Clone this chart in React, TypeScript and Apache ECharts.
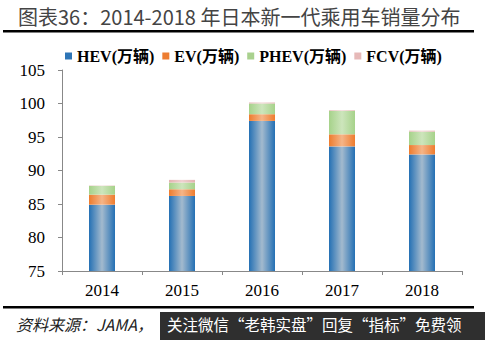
import React, { useEffect, useRef } from "react";
import * as echarts from "echarts";

const categories = ["2014", "2015", "2016", "2017", "2018"];
const hev = [84.9, 86.2, 97.4, 93.6, 92.4];
const ev = [1.5, 1.0, 1.0, 1.8, 1.4];
const phev = [1.3, 1.0, 1.6, 3.5, 2.0];
const fcv = [0.05, 0.4, 0.15, 0.1, 0.15];
const seriesNames = ["HEV(万辆)", "EV(万辆)", "PHEV(万辆)", "FCV(万辆)"];
const titleText = "图表36：2014-2018 年日本新一代乘用车销量分布";
const sourceText = "资料来源：JAMA，";
const watermarkText = "关注微信“老韩实盘”回复“指标”免费领";

const grad = (edge: string, mid: string) =>
  new echarts.graphic.LinearGradient(0, 0, 1, 0, [
    { offset: 0, color: edge },
    { offset: 0.5, color: mid },
    { offset: 1, color: edge },
  ]);

export default function App() {
  const ref = useRef<HTMLDivElement>(null);
  useEffect(() => {
    if (!ref.current) return;
    const chart = echarts.init(ref.current, null, { renderer: "svg" });
    const serif = "'Liberation Serif', 'Times New Roman', 'Noto Sans CJK SC', serif";
    const solid = ["#2E75B6", "#ED7D31", "#A9D18E", "#E6B9B8"];
    const fills = [
      grad("#2470B4", "#A3BACE"),
      grad("#EE7C2E", "#F5B588"),
      grad("#A6D28A", "#CDE5BC"),
      grad("#E3B2B1", "#F0D2D1"),
    ];
    const datas = [hev, ev, phev, fcv];
    chart.setOption({
      animation: false,
      backgroundColor: "#ffffff",
      grid: { left: 62, right: 23, top: 70, bottom: 69 },
      legend: {
        left: 60,
        top: 43,
        itemWidth: 7,
        itemHeight: 7,
        itemGap: 8,
        icon: "rect",
        data: seriesNames.map((n, i) => ({ name: n, itemStyle: { color: solid[i] } })),
        textStyle: { fontFamily: serif, fontWeight: "bold", fontSize: 16, color: "#000" },
      },
      xAxis: {
        type: "category",
        data: categories,
        axisLine: { lineStyle: { color: "#888", width: 1 } },
        axisTick: { show: true, length: 4, lineStyle: { color: "#888" } },
        axisLabel: { fontFamily: serif, fontSize: 17, color: "#000", margin: 11 },
      },
      yAxis: {
        type: "value",
        min: 75,
        max: 105,
        interval: 5,
        splitLine: { show: false },
        axisLine: { show: true, lineStyle: { color: "#888", width: 1 } },
        axisTick: { show: true, length: 4, lineStyle: { color: "#888" } },
        axisLabel: { fontFamily: serif, fontSize: 17, color: "#000", margin: 17 },
      },
      series: seriesNames.map((n, i) => ({
        name: n,
        type: "bar",
        stack: "total",
        barWidth: 26,
        data: datas[i],
        itemStyle: { color: fills[i] },
      })),
      graphic: [
        {
          type: "text",
          left: 18,
          top: 6,
          style: {
            text: titleText,
            font: "20px 'Noto Sans CJK SC', sans-serif",
            fill: "#444",
          },
        },
        { type: "rect", shape: { x: 3, y: 30, width: 471, height: 2.5 }, style: { fill: "#000" } },
        { type: "rect", shape: { x: 3, y: 306, width: 471, height: 2.5 }, style: { fill: "#000" } },
        {
          type: "text",
          left: 16,
          top: 316,
          style: {
            text: sourceText,
            font: "italic 16px 'Noto Sans CJK SC', serif",
            fill: "#222",
          },
        },
        { type: "rect", shape: { x: 160, y: 312, width: 325, height: 28 }, style: { fill: "#2f2f2f" } },
        {
          type: "text",
          left: 167,
          top: 316,
          style: {
            text: watermarkText,
            font: "15.5px 'Noto Sans CJK SC', sans-serif",
            fill: "#ffffff",
          },
        },
      ],
    });
    return () => chart.dispose();
  }, []);
  return (
    <div
      ref={ref}
      style={{ position: "fixed", left: 0, top: 0, width: 485, height: 340 }}
    />
  );
}
